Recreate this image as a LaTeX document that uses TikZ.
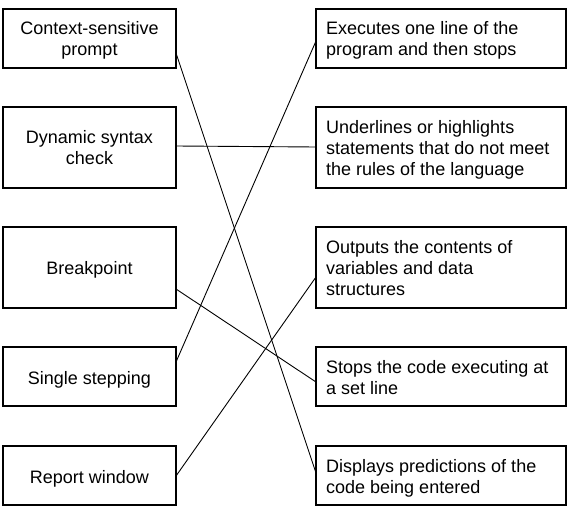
\documentclass[tikz,border=0pt]{standalone}
\usepackage{fontspec}
\setmainfont{Liberation Sans}
\begin{document}
\begin{tikzpicture}[x=1pt,y=-1pt,
  box/.style={draw,line width=1.4pt,rectangle,inner sep=0pt,outer sep=0pt,anchor=north west},
  lbox/.style={box,minimum width=173pt},
  rbox/.style={box,minimum width=250pt},
  short/.style={minimum height=59pt},
  tall/.style={minimum height=81pt},
  term/.style={font=\fontsize{18}{21}\selectfont,inner sep=0pt,align=center,anchor=base},
  desc/.style={font=\fontsize{18}{21}\selectfont,inner sep=0pt,align=left,anchor=base west},
  link/.style={line width=0.9pt}]
\useasboundingbox (0,0) rectangle (572,516);

% terms (left column); multi-line texts are placed by their last baseline
\node[lbox,short] (l1) at (3,9)   {};
\node[lbox,tall]  (l2) at (3,107) {};
\node[lbox,tall]  (l3) at (3,227) {};
\node[lbox,short] (l4) at (3,347) {};
\node[lbox,short] (l5) at (3,446) {};

\node[term] (t1) at (89.5,56)  {Context-sensitive\\prompt};
\node[term] (t2) at (89.5,164) {Dynamic syntax\\check};
\node[term] (t3) at (89.5,274) {Breakpoint};
\node[term] (t4) at (89.5,384) {Single stepping};
\node[term] (t5) at (89.5,483) {Report window};

% descriptions (right column)
\node[rbox,short] (r1) at (316,9)   {};
\node[rbox,tall]  (r2) at (316,107) {};
\node[rbox,tall]  (r3) at (316,227) {};
\node[rbox,short] (r4) at (316,347) {};
\node[rbox,short] (r5) at (316,446) {};

\node[desc] (d1) at (326,56)  {Executes one line of the\\program and then stops};
\node[desc] (d2) at (326,175) {Underlines or highlights\\statements that do not meet\\the rules of the language};
\node[desc] (d3) at (326,295) {Outputs the contents of\\variables and data\\structures};
\node[desc] (d4) at (326,394) {Stops the code executing at\\a set line};
\node[desc] (d5) at (326,493) {Displays predictions of the\\code being entered};

% matching lines
\draw[link] ([yshift=-44pt]l1.north east) -- ([yshift=-27pt]r5.north west);
\draw[link] ([yshift=-39pt]l2.north east) -- ([yshift=-40pt]r2.north west);
\draw[link] ([yshift=-62pt]l3.north east) -- ([yshift=-35pt]r4.north west);
\draw[link] ([yshift=-15pt]l4.north east) -- ([yshift=-32pt]r1.north west);
\draw[link] ([yshift=-30pt]l5.north east) -- ([yshift=-50pt]r3.north west);
\end{tikzpicture}
\end{document}
